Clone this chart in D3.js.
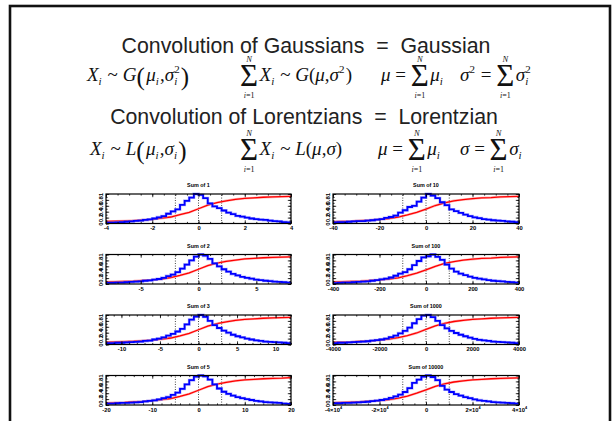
<!DOCTYPE html>
<html>
<head>
<meta charset="utf-8">
<script src="https://cdn.jsdelivr.net/npm/d3@7"></script>
<style>
body { margin: 0; background: #fff; }
svg { display: block; }
.ttl { font-family: "Liberation Sans", Arial, sans-serif; white-space: pre; }
.math text { font-family: "Liberation Serif", "Times New Roman", serif; white-space: pre; }
.ax text { font-family: "Liberation Sans", Arial, sans-serif; font-weight: bold; }
</style>
</head>
<body>
<svg id="slide" width="613" height="421"></svg>
<script>
// ---- panel data ----
var sums = [1, 10, 2, 100, 3, 1000, 5, 10000];
var panelTitles = ["Sum of 1", "Sum of 10", "Sum of 2", "Sum of 100",
                   "Sum of 3", "Sum of 1000", "Sum of 5", "Sum of 10000"];
var xTicks = [[-4, -2, 0, 2, 4], [-40, -20, 0, 20, 40],
              [-5, 0, 5], [-400, -200, 0, 200, 400],
              [-10, -5, 0, 5, 10], [-4000, -2000, 0, 2000, 4000],
              [-20, -10, 0, 10, 20], [-40000, -20000, 0, 20000, 40000]];
var xMinor = [0.5, 5, 1, 50, 1, 500, 2, 5000];
var yTicks = [0, 0.2, 0.4, 0.6, 0.8, 1];

// histogram heights, 40 bins across [-4N, 4N], peak scaled to 1
var hist1 = [0.03,0.03,0.04,0.05,0.06,0.07,0.09,0.10,0.12,0.14, 0.17,0.21,0.25,0.33,0.41,0.48,0.63,0.77,0.88,1.00,
             0.97,0.86,0.68,0.58,0.52,0.44,0.37,0.32,0.26,0.23, 0.20,0.17,0.15,0.13,0.12,0.10,0.08,0.07,0.05,0.04];
var hist10 = [0.04,0.05,0.05,0.06,0.07,0.08,0.08,0.10,0.11,0.13, 0.15,0.19,0.22,0.27,0.37,0.45,0.56,0.60,0.74,0.88,
              1.00,0.95,0.86,0.72,0.62,0.48,0.42,0.36,0.30,0.25, 0.21,0.18,0.15,0.13,0.11,0.10,0.09,0.07,0.06,0.05];
var hist2 = [0.04,0.04,0.05,0.05,0.06,0.07,0.08,0.09,0.11,0.12, 0.15,0.17,0.21,0.27,0.32,0.40,0.52,0.66,0.80,0.93,
             1.00,0.96,0.85,0.70,0.60,0.50,0.42,0.34,0.29,0.24, 0.21,0.18,0.15,0.13,0.11,0.10,0.08,0.07,0.06,0.05];
var hist100 = [0.03,0.04,0.05,0.05,0.06,0.07,0.08,0.09,0.11,0.13, 0.16,0.18,0.22,0.28,0.35,0.40,0.50,0.64,0.78,0.90,
               0.94,1.00,0.92,0.82,0.66,0.52,0.42,0.35,0.30,0.25, 0.21,0.18,0.16,0.13,0.11,0.10,0.09,0.07,0.06,0.05];
var hist3 = [0.05,0.05,0.06,0.06,0.07,0.08,0.09,0.10,0.12,0.13, 0.17,0.20,0.24,0.30,0.36,0.44,0.53,0.68,0.84,0.95,
             1.00,0.94,0.80,0.66,0.56,0.47,0.40,0.33,0.28,0.24, 0.20,0.17,0.14,0.12,0.10,0.09,0.08,0.07,0.06,0.05];
var hist1000 = [0.05,0.06,0.06,0.07,0.08,0.09,0.10,0.11,0.13,0.15, 0.17,0.20,0.25,0.30,0.38,0.46,0.57,0.72,0.86,0.98,
                1.00,0.93,0.80,0.66,0.55,0.46,0.39,0.33,0.28,0.23, 0.19,0.16,0.14,0.12,0.10,0.09,0.08,0.07,0.06,0.05];
var hist5 = [0.05,0.05,0.06,0.07,0.07,0.08,0.09,0.10,0.12,0.14, 0.16,0.19,0.23,0.27,0.34,0.42,0.55,0.70,0.84,0.96,
             1.00,0.97,0.86,0.70,0.56,0.45,0.38,0.32,0.27,0.23, 0.20,0.17,0.14,0.12,0.10,0.09,0.08,0.07,0.05,0.04];
var hist10000 = [0.06,0.06,0.07,0.07,0.08,0.09,0.10,0.11,0.13,0.15, 0.17,0.20,0.24,0.29,0.35,0.44,0.57,0.75,0.86,0.96,
                 1.00,0.95,0.84,0.65,0.52,0.44,0.37,0.32,0.27,0.23, 0.19,0.16,0.14,0.12,0.10,0.09,0.08,0.07,0.06,0.05];

// cumulative fraction at 21 evenly spaced points across [-4N, 4N]
var cdf1 = [0.07,0.08,0.09,0.10,0.12,0.14,0.18,0.22,0.30,0.38,0.50,0.62,0.71,0.77,0.82,0.85,0.87,0.89,0.90,0.91,0.92];
var cdf10 = [0.06,0.07,0.08,0.10,0.11,0.14,0.17,0.22,0.29,0.38,0.49,0.61,0.70,0.77,0.81,0.84,0.87,0.88,0.90,0.91,0.92];
var cdf2 = [0.07,0.08,0.09,0.10,0.12,0.14,0.17,0.22,0.29,0.38,0.50,0.62,0.71,0.77,0.81,0.85,0.87,0.89,0.90,0.91,0.92];
var cdf100 = [0.07,0.08,0.09,0.10,0.12,0.14,0.17,0.21,0.28,0.37,0.48,0.60,0.70,0.76,0.81,0.84,0.87,0.88,0.90,0.91,0.92];
var cdf3 = [0.08,0.09,0.10,0.11,0.13,0.15,0.18,0.22,0.29,0.38,0.50,0.62,0.71,0.77,0.82,0.85,0.87,0.89,0.90,0.91,0.92];
var cdf1000 = [0.08,0.08,0.09,0.11,0.12,0.15,0.18,0.23,0.30,0.39,0.51,0.63,0.72,0.78,0.82,0.85,0.87,0.89,0.90,0.91,0.92];
var cdf5 = [0.07,0.08,0.09,0.11,0.12,0.15,0.18,0.22,0.29,0.38,0.50,0.62,0.71,0.77,0.82,0.85,0.87,0.89,0.90,0.91,0.93];
var cdf10000 = [0.08,0.09,0.10,0.11,0.13,0.15,0.18,0.23,0.30,0.40,0.51,0.63,0.72,0.78,0.82,0.85,0.87,0.89,0.90,0.91,0.92];

var hists = [hist1, hist10, hist2, hist100, hist3, hist1000, hist5, hist10000];
var cdfs = [cdf1, cdf10, cdf2, cdf100, cdf3, cdf1000, cdf5, cdf10000];

var svg = d3.select("#slide");

// slide frame
svg.append("rect")
    .attr("x", 10).attr("y", 6)
    .attr("width", 600).attr("height", 440)
    .attr("fill", "none").attr("stroke", "#111").attr("stroke-width", 2.6);

// headings
svg.append("text").attr("class", "ttl")
    .attr("x", 306).attr("y", 53).attr("text-anchor", "middle")
    .attr("font-size", 21.3).attr("fill", "#222")
    .text("Convolution of Gaussians  =  Gaussian");
svg.append("text").attr("class", "ttl")
    .attr("x", 304).attr("y", 124).attr("text-anchor", "middle")
    .attr("font-size", 21.3).attr("fill", "#222")
    .text("Convolution of Lorentzians  =  Lorentzian");

// ---- formulas: tokens laid out left to right ----
// i: italic, r: roman, b: big delimiter, _: subscript, ^: superscript, _^: both, S: summation
function flow(g, x, y, toks) {
    toks.forEach(function(t) {
        var kind = t[0], w = 0;
        if (kind == "S") {
            var s = g.append("text").attr("x", x).attr("y", y + 5)
                .attr("font-size", 31).text("\u03A3");
            w = s.node().getComputedTextLength();
            g.append("text").attr("x", x + w / 2).attr("y", y - 19.5)
                .attr("text-anchor", "middle").attr("font-size", 8.5)
                .attr("font-style", "italic").text("N");
            var lo = g.append("text").attr("x", x + w / 2).attr("y", y + 17)
                .attr("text-anchor", "middle").attr("font-size", 8);
            lo.append("tspan").attr("font-style", "italic").text("i");
            lo.append("tspan").text("=1");
            w += 1.5;
        } else if (kind == "_" || kind == "^" || kind == "_^") {
            var w1 = 0, w2 = 0;
            if (kind != "^") {
                w1 = g.append("text").attr("x", x).attr("y", y + 4)
                    .attr("font-size", 11).attr("font-style", "italic")
                    .text(t[1]).node().getComputedTextLength();
            }
            if (kind != "_") {
                w2 = g.append("text").attr("x", x).attr("y", y - 8)
                    .attr("font-size", 11)
                    .text(kind == "^" ? t[1] : t[2]).node().getComputedTextLength();
            }
            w = Math.max(w1, w2) + 1.2;
        } else if (kind == "b") {
            w = g.append("text").attr("x", x).attr("y", y + 4)
                .attr("font-size", 25).text(t[1]).node().getComputedTextLength() + 1.5;
        } else {
            w = g.append("text").attr("x", x).attr("y", y)
                .attr("font-size", 19).attr("font-style", kind == "i" ? "italic" : "normal")
                .text(t[1]).node().getComputedTextLength();
        }
        x += w;
    });
}

var math = svg.append("g").attr("class", "math").attr("fill", "#111");

flow(math, 87, 81, [["i", "X"], ["_", "i"], ["r", " ~ "], ["i", "G"], ["b", "("], ["i", "\u03BC"], ["_", "i"],
    ["r", ","], ["i", "\u03C3"], ["_^", "i", "2"], ["b", ")"]]);
flow(math, 240, 81, [["S"], ["i", "X"], ["_", "i"], ["r", " ~ "], ["i", "G"], ["r", "("], ["i", "\u03BC"],
    ["r", ","], ["i", "\u03C3"], ["^", "2"], ["r", ")"]]);
flow(math, 381, 81, [["i", "\u03BC"], ["r", " = "], ["S"], ["i", "\u03BC"], ["_", "i"]]);
flow(math, 460, 81, [["i", "\u03C3"], ["^", "2"], ["r", " = "], ["S"], ["i", "\u03C3"], ["_^", "i", "2"]]);

flow(math, 90, 155, [["i", "X"], ["_", "i"], ["r", " ~ "], ["i", "L"], ["b", "("], ["i", "\u03BC"], ["_", "i"],
    ["r", ","], ["i", "\u03C3"], ["_", "i"], ["b", ")"]]);
flow(math, 240, 155, [["S"], ["i", "X"], ["_", "i"], ["r", " ~ "], ["i", "L"], ["r", "("], ["i", "\u03BC"],
    ["r", ","], ["i", "\u03C3"], ["r", ")"]]);
flow(math, 378, 155, [["i", "\u03BC"], ["r", " = "], ["S"], ["i", "\u03BC"], ["_", "i"]]);
flow(math, 460, 155, [["i", "\u03C3"], ["r", " = "], ["S"], ["i", "\u03C3"], ["_", "i"]]);

// ---- the eight panels ----
var colX = [[106, 291], [333, 519]];
var ph = 29.5;

function tickLabel(sel, v, big) {
    if (!big || v == 0) { sel.text(String(v)); return; }
    sel.text(null);
    sel.append("tspan").text((v < 0 ? "-" : "") + Math.abs(v / 10000) + "\u00D710");
    sel.append("tspan").attr("dy", -2.5).attr("font-size", 3.8).text("4");
}

sums.forEach(function(n, p) {
    var row = Math.floor(p / 2), col = p % 2;
    var x0 = colX[col][0], x1 = colX[col][1];
    var top = 194 + 60.5 * row;

    var x = d3.scaleLinear().domain([-4 * n, 4 * n]).range([0, x1 - x0]);
    var y = d3.scaleLinear().domain([0, 1]).range([ph, 0]);

    var g = svg.append("g").attr("transform", "translate(" + x0 + "," + top + ")");

    g.append("text").attr("class", "ttl")
        .attr("x", (x1 - x0) / 2).attr("y", -7)
        .attr("text-anchor", "middle").attr("font-size", 5.4).attr("font-weight", "bold")
        .text(panelTitles[p]);

    // dotted lines at -N, 0, N
    g.selectAll(".dot").data([-n, 0, n]).enter().append("line")
        .attr("x1", function(d) { return x(d); }).attr("x2", function(d) { return x(d); })
        .attr("y1", y(0)).attr("y2", y(1))
        .attr("stroke", "#000").attr("stroke-width", 0.8).attr("stroke-dasharray", "0.9,1.6");

    // cumulative curve
    var cdf = cdfs[p];
    var cx = d3.scaleLinear().domain([0, cdf.length - 1]).range([-4 * n, 4 * n]);
    var cline = d3.line().x(function(d, i) { return x(cx(i)); }).y(function(d) { return y(d); });
    g.append("path").attr("d", cline(cdf))
        .attr("fill", "none").attr("stroke", "#ff8080").attr("stroke-width", 2.4).attr("opacity", 0.6);
    g.append("path").attr("d", cline(cdf))
        .attr("fill", "none").attr("stroke", "#f00").attr("stroke-width", 1.3);

    // histogram steps
    var h = hists[p];
    var bx = d3.scaleLinear().domain([0, h.length]).range([-4 * n, 4 * n]);
    var pts = h.map(function(v, i) { return [bx(i), v]; });
    pts.push([bx(h.length), h[h.length - 1]]);
    var hline = d3.line().curve(d3.curveStepAfter)
        .x(function(d) { return x(d[0]); }).y(function(d) { return y(d[1]); });
    g.append("path").attr("d", hline(pts))
        .attr("fill", "none").attr("stroke", "#8080ff").attr("stroke-width", 2.9).attr("opacity", 0.55);
    g.append("path").attr("d", hline(pts))
        .attr("fill", "none").attr("stroke", "#00f").attr("stroke-width", 1.8);

    // axes: ticks on all four sides, pointing in
    var minorX = d3.range(-4 * n, 4 * n + xMinor[p] / 2, xMinor[p]);
    var minorY = d3.range(0, 1.001, 0.1);

    var bottom = g.append("g").attr("class", "ax").attr("transform", "translate(0," + ph + ")")
        .call(d3.axisBottom(x).tickValues(xTicks[p]).tickSize(-3.2).tickPadding(2.5));
    bottom.selectAll("text").attr("font-size", 5.8).attr("fill", "#000")
        .each(function(v) { tickLabel(d3.select(this), v, n == 10000); });
    g.append("g").attr("class", "ax").attr("transform", "translate(0," + ph + ")")
        .call(d3.axisBottom(x).tickValues(minorX).tickSize(-1.6).tickFormat(""));
    g.append("g").attr("class", "ax")
        .call(d3.axisTop(x).tickValues(xTicks[p]).tickSize(-3.2).tickFormat(""));
    g.append("g").attr("class", "ax")
        .call(d3.axisTop(x).tickValues(minorX).tickSize(-1.6).tickFormat(""));

    var left = g.append("g").attr("class", "ax")
        .call(d3.axisLeft(y).tickValues(yTicks).tickSize(-3.2).tickFormat(d3.format("")));
    left.selectAll("text")
        .attr("font-size", 6).attr("fill", "#000")
        .attr("text-anchor", "middle").attr("dy", 0)
        .attr("x", 0).attr("y", -2.6).attr("transform", "rotate(-90)");
    g.append("g").attr("class", "ax")
        .call(d3.axisLeft(y).tickValues(minorY).tickSize(-1.6).tickFormat(""));
    g.append("g").attr("class", "ax").attr("transform", "translate(" + (x1 - x0) + ",0)")
        .call(d3.axisRight(y).tickValues(yTicks).tickSize(-3.2).tickFormat(""));
    g.append("g").attr("class", "ax").attr("transform", "translate(" + (x1 - x0) + ",0)")
        .call(d3.axisRight(y).tickValues(minorY).tickSize(-1.6).tickFormat(""));

    g.selectAll(".ax .domain").remove();
    g.selectAll(".ax line").attr("stroke", "#000").attr("stroke-width", 0.8);

    g.append("rect").attr("width", x1 - x0).attr("height", ph)
        .attr("fill", "none").attr("stroke", "#000").attr("stroke-width", 1.2);
});
</script>
</body>
</html>
